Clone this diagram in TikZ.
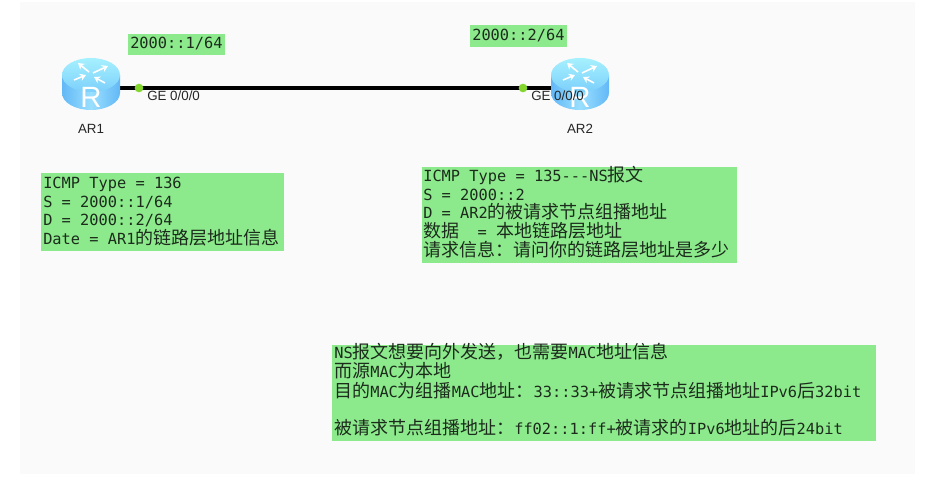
\documentclass[tikz,border=0pt]{standalone}
\usepackage{fontspec}
\setmainfont{Liberation Sans}
\newfontfamily\monof{DejaVu Sans Mono}
\newfontfamily\cjkf{Noto Sans CJK SC}
\newcommand\cj[1]{{\fontsize{13.5}{16}\cjkf #1}}
\definecolor{boxgreen}{HTML}{8CEA8C}
\definecolor{panel}{HTML}{FAFAFA}
\definecolor{portgreen}{HTML}{84D62E}
\definecolor{inktext}{HTML}{1C2B1C}
\definecolor{rside}{HTML}{62B8F6}
\definecolor{rmid}{HTML}{9ADFFF}
\definecolor{rtop}{HTML}{A6F1FF}
\definecolor{rtopb}{HTML}{7CCFFB}
\usetikzlibrary{arrows.meta}
\tikzset{
  x=0.75pt,y=-0.75pt,
  line/.style={anchor=base west,inner sep=0pt,text=inktext,font=\fontsize{11.5}{14}\monof},
  lab/.style={inner sep=0pt,text=black!85,font=\fontsize{10}{12}\selectfont},
  port/.style={circle,fill=portgreen,draw=none,minimum size=6.5pt,inner sep=0pt},
  anchorpt/.style={inner sep=0pt,minimum size=0pt},
  link/.style={draw=black,line width=2.3pt},
  rarrow/.style={draw=white,line width=1.2pt,-{Stealth[length=4.5pt,width=5.5pt]}},
}
\newcommand\routerdraw[2]{%
  \begin{scope}[shift={(#1,#2)}]
    \path[left color=rside,right color=rside,middle color=rmid]
      (-29,-13) -- (-29,5) arc[start angle=180,end angle=360,x radius=21.75pt,y radius=12.75pt]
      -- (29,-13) -- cycle;
    \path[top color=rtop,bottom color=rtopb]
      (0,-13) ellipse[x radius=21.75pt,y radius=12.75pt];
    \draw[rarrow] (-2,-16) -- (-13,-25);
    \draw[rarrow] (-17,-8) -- (-5,-13);
    \draw[rarrow] (2,-15) -- (17,-22);
    \draw[rarrow] (14,-5) -- (3,-11);
    \node[anchorpt,text=white,font=\fontsize{22}{22}\selectfont] at (0,9) {R};
  \end{scope}}
\begin{document}
\begin{tikzpicture}
\useasboundingbox (0,0) rectangle (925,481);
\fill[white] (0,0) rectangle (925,481);
\fill[panel] (20,2) rectangle (915,474);

\node[anchorpt] (r1) at (91,88) {};
\node[anchorpt] (r2) at (580,88) {};
\path (139,88) coordinate (p1) (523,88) coordinate (p2);
\draw[link] (r1) -- (p1) -- (p2) -- (r2);
\routerdraw{91}{88}
\routerdraw{580}{88}
\node[port] (d1) at (p1) {};
\node[port] (d2) at (p2) {};
\node[lab,anchor=west] (ge1) at (147,96) {GE 0/0/0};
\node[lab,anchor=west] (ge2) at (531,96) {GE 0/0/0};
\node[lab] (ar1) at (91,129) {AR1};
\node[lab] (ar2) at (580,129) {AR2};

% address labels
\fill[boxgreen] (128,34) rectangle (225,55);
\node[line] (a1) at (130,49) {2000::1/64};
\fill[boxgreen] (470,25) rectangle (567,47);
\node[line] (a2) at (472,41) {2000::2/64};

% AR1 reply
\fill[boxgreen] (41,173) rectangle (284,251);
\node[line] (b1) at (43,189) {ICMP Type = 136};
\node[line] (b2) at (43,208) {S = 2000::1/64};
\node[line] (b3) at (43,226) {D = 2000::2/64};
\node[line] (b4) at (43,245) {Date = AR1\cj{的链路层地址信息}};

% AR2 request
\fill[boxgreen] (422,167) rectangle (737,263);
\node[line] (c1) at (423,182) {ICMP Type = 135---NS\cj{报文}};
\node[line] (c2) at (423,201) {S = 2000::2};
\node[line] (c3) at (423,219) {D = AR2\cj{的被请求节点组播地址}};
\node[line] (c4) at (423,238) {\cj{数据}\ \ = \cj{本地链路层地址}};
\node[line] (c5) at (423,257) {\cj{请求信息：请问你的链路层地址是多少}};

% note
\fill[boxgreen] (332,345) rectangle (876,441);
\node[line] (n1) at (334,358) {NS\cj{报文想要向外发送，也需要}MAC\cj{地址信息}};
\node[line] (n2) at (334,377) {\cj{而源}MAC\cj{为本地}};
\node[line] (n3) at (334,397) {\cj{目的}MAC\cj{为组播}MAC\cj{地址：}33::33+\cj{被请求节点组播地址}IPv6\cj{后}32bit};
\node[line] (n4) at (334,434) {\cj{被请求节点组播地址：}ff02::1:ff+\cj{被请求的}IPv6\cj{地址的后}24bit};
\end{tikzpicture}
\end{document}
